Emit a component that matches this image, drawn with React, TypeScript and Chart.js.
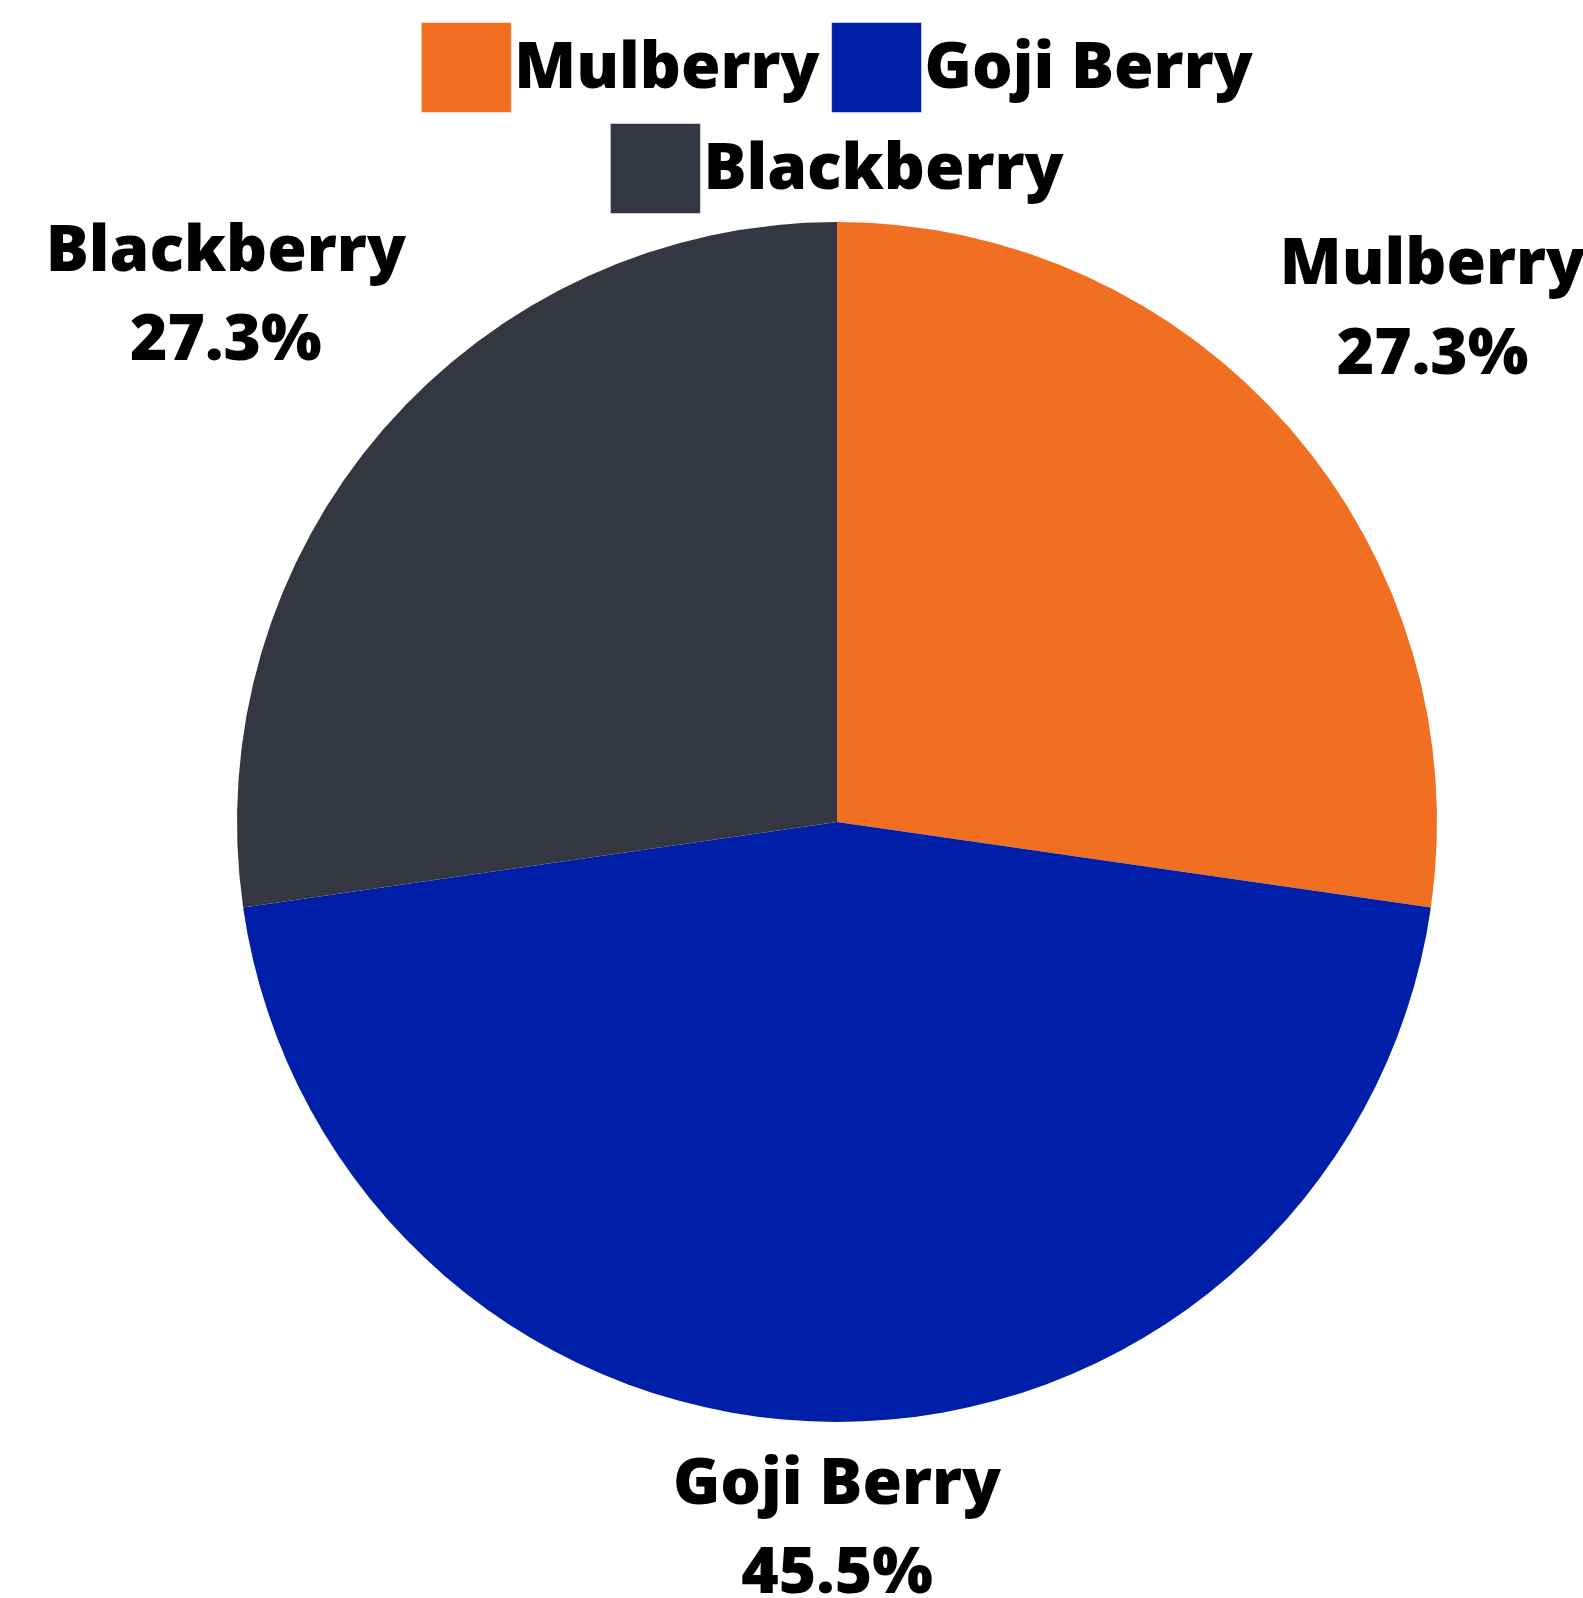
import React, { useEffect, useRef } from "react";
import { Chart, registerables } from "chart.js";

Chart.register(...registerables);

// ---- data ----
const categories: string[] = ["Mulberry", "Goji Berry", "Blackberry"];
const values: number[] = [3, 5, 3];
const sliceColors: string[] = ["#F06F21", "#001FA8", "#343741"];

// ---- style ----
const FONT_FAMILY = '"Open Sans", "Noto Sans", sans-serif';
const FONT_WEIGHT = 800;
const FONT_SIZE = 64;
const CAP_H = 46;
const LINE_SPACING = 89.5;

const legendPlugin = {
  id: "customLegend",
  afterDraw(chart: any) {
    const ctx: CanvasRenderingContext2D = chart.ctx;
    const ca = chart.chartArea;
    const cx = (ca.left + ca.right) / 2;
    const box = 90;
    const gap = 3;
    const itemPad = 12;
    const maxRow = 1000;
    const rowTop = 22.5;
    const rowStep = 101;
    ctx.save();
    ctx.font = `${FONT_WEIGHT} ${FONT_SIZE}px ${FONT_FAMILY}`;
    const items = categories.map((t, i) => ({ t, i, w: box + gap + ctx.measureText(t).width }));
    const rows: { items: typeof items; w: number }[] = [];
    let cur: typeof items = [];
    let curW = 0;
    for (const it of items) {
      const add = (cur.length ? itemPad : 0) + it.w;
      if (cur.length && curW + add > maxRow) {
        rows.push({ items: cur, w: curW });
        cur = [it];
        curW = it.w;
      } else {
        cur.push(it);
        curW += add;
      }
    }
    if (cur.length) rows.push({ items: cur, w: curW });
    rows.forEach((row, r) => {
      let x = cx - row.w / 2;
      const y = rowTop + r * rowStep;
      row.items.forEach((it) => {
        ctx.fillStyle = sliceColors[it.i];
        ctx.fillRect(x, y, box, box);
        ctx.strokeStyle = "rgba(255,255,255,0.5)";
        ctx.lineWidth = 1;
        ctx.strokeRect(x, y, box, box);
        ctx.fillStyle = "#000";
        ctx.textAlign = "left";
        ctx.textBaseline = "alphabetic";
        ctx.fillText(it.t, x + box + gap, y + box / 2 + CAP_H / 2 - 3);
        x += it.w + itemPad;
      });
    });
    ctx.restore();
  },
};

const labelPlugin = {
  id: "outsideLabels",
  afterDraw(chart: any) {
    const ctx: CanvasRenderingContext2D = chart.ctx;
    const meta = chart.getDatasetMeta(0);
    const data: number[] = chart.data.datasets[0].data;
    const total = data.reduce((a, b) => a + b, 0);
    ctx.save();
    ctx.font = `${FONT_WEIGHT} ${FONT_SIZE}px ${FONT_FAMILY}`;
    ctx.fillStyle = "#000";
    ctx.textAlign = "center";
    ctx.textBaseline = "alphabetic";
    meta.data.forEach((arc: any, i: number) => {
      const p = arc.getProps(["x", "y", "startAngle", "endAngle", "outerRadius"], true);
      const mid = (p.startAngle + p.endAngle) / 2;
      const vx = Math.cos(mid);
      const vy = Math.sin(mid);
      const l1 = String(chart.data.labels[i]);
      const l2 = ((data[i] / total) * 100).toFixed(1) + "%";
      const w = Math.max(ctx.measureText(l1).width, ctx.measureText(l2).width);
      const h = LINE_SPACING * 2;
      const d = p.outerRadius + 14 + (w / 2) * Math.abs(vx) + (h / 2) * Math.abs(vy);
      const lx = p.x + vx * d;
      const ly = p.y + vy * d;
      ctx.fillText(l1, lx, ly - LINE_SPACING / 2 + CAP_H / 2);
      ctx.fillText(l2, lx, ly + LINE_SPACING / 2 + CAP_H / 2);
    });
    ctx.restore();
  },
};

export default function App() {
  const ref = useRef<HTMLCanvasElement | null>(null);
  useEffect(() => {
    if (!ref.current) return;
    const chart = new Chart(ref.current, {
      type: "pie",
      data: {
        labels: categories,
        datasets: [
          {
            data: values,
            backgroundColor: sliceColors,
            borderWidth: 0,
          },
        ],
      },
      options: {
        responsive: false,
        animation: false,
        devicePixelRatio: 1,
        layout: { padding: { top: 222, bottom: 176, left: 91, right: 0 } },
        plugins: {
          legend: { display: false },
          tooltip: { enabled: false },
        },
      },
      plugins: [legendPlugin, labelPlugin],
    });
    return () => chart.destroy();
  }, []);
  return (
    <div style={{ position: "absolute", left: 0, top: 0, width: 1583, height: 1598, background: "#fff" }}>
      <canvas ref={ref} width={1583} height={1598} style={{ display: "block" }} />
    </div>
  );
}
